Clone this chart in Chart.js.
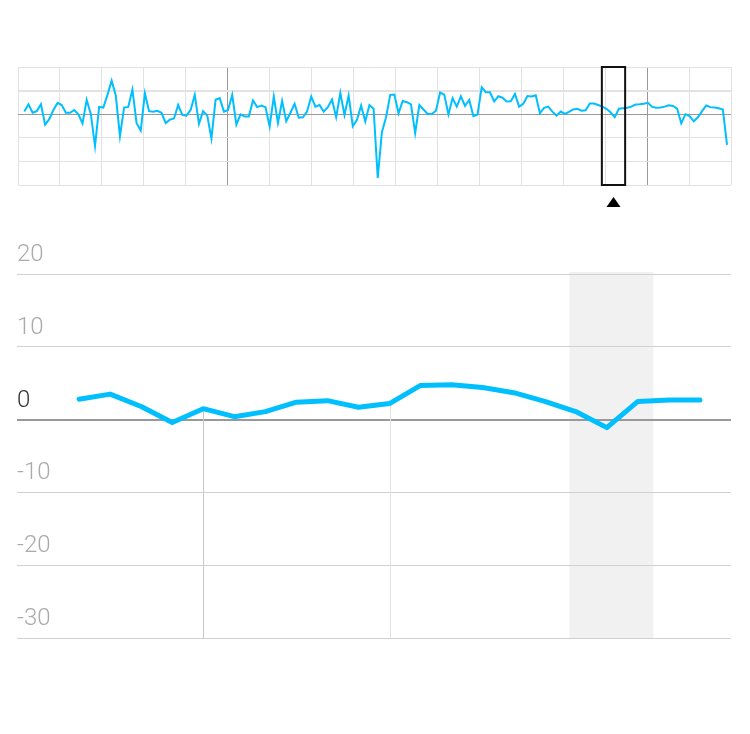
<!DOCTYPE html>
<html>
<head>
<meta charset="utf-8">
<script src="https://cdn.jsdelivr.net/npm/chart.js@4"></script>
<style>
  body { margin: 0; background: #fff; }
  #wrap { position: relative; width: 750px; height: 734px; }
  canvas { position: absolute; left: 0; }
  #overview { top: 0; }
  #detail { top: 230px; }
</style>
</head>
<body>
<div id="wrap">
  <canvas id="overview" width="750" height="230"></canvas>
  <canvas id="detail" width="750" height="504"></canvas>
</div>
<script>
// overview series (170 points)
var overviewValues = [
  1.1, 4.2, 0.6, 1.3, 4.2, -4.4, -2.1, 1.8, 4.8, 3.9, 0.6, 0.6, 1.8, -0.1, -3.9, 6.1, 0, -13.5, 3.1, 2.8, 8.2, 14.2, 7.9, -9.3, 2.8, 3.1, 10.4, -3.8,
  -6.9, 8.9, 1.3, 1.0, 1.4, 0.6, -3.8, -2.3, -1.8, 3.9, -0.3, -0.6, 1.8, 8.2, -4.1, 1.3, -0.6, -10.3, 6.1, 6.8, 1.1, 1.8, 8.2, -4.4, -0.1, -1.0, -1.0, 5.8,
  3.0, 3.7, 3.0, -5.2, 7.5, -3.7, 5.6, -3.0, 0.6, 4.4, -1.5, -1.3, 1.1, 7.5, 3.2, 3.9, 1.1, 3.0, 6.2, -1.3, 9.0, -0.3, 7.9, -5.1, -2.4, 3.7, -3.1, 3.9, 2.3,
  -27.0, -7.6, -1.3, 8.2, 8.3, 0.4, 5.6, 5.1, 4.2, -8.0, 3.9, 2.0, 0.1, 0.1, 1.5, 9.2, 8.3, -0.1, 6.8, 3.2, 7.6, 3.5, 6.1, -0.8, -0.1, 11.4, 9.3, 9.3, 5.4,
  7.6, 7.0, 5.4, 5.5, 8.6, 3.2, 4.4, 7.7, 7.5, 8.0, 0.4, 2.7, 3.2, 1.1, -0.6, 1.1, 0.1, 1.0, 2.0, 2.3, 1.5, 1.7, 4.5, 4.5, 3.9, 3.2, 2.3, 0.8, -1.3,
  2.3, 2.5, 2.7, 3.2, 4.1, 4.2, 4.4, 4.8, 3.1, 2.7, 2.8, 3.2, 3.8, 3.5, 2.4, -3.9, 0, -0.8, -3.0, -1.3, 1.3, 3.7, 3.0, 2.8, 2.5, 2.0, -13.0
];
// detail series (21 points)
var detailValues = [2.8, 3.5, 1.8, -0.4, 1.5, 0.4, 1.1, 2.4, 2.6, 1.7, 2.2, 4.7, 4.8, 4.4, 3.7, 2.5, 1.1, -1.1, 2.5, 2.7, 2.7];
var yTicks = [20, 10, 0, -10, -20, -30];
var dropLineIndexes = [4, 10];
var dropLineColors = ["#c8c8c8", "#e2e2e2"];
var bandRange = [15.8, 18.5];
var windowRange = [138.9, 144.5];
var darkOverviewLines = [5, 15];

var blue = "#00bfff";

function toPoints(values) {
  var pts = [];
  for (var i = 0; i < values.length; i++) pts.push({x: i, y: values[i]});
  return pts;
}

// ---- overview ----
var ovMin = -1.52, ovMax = 169.96;
var windowPlugin = {
  id: "windowBox",
  afterDraw: function(chart) {
    var ctx = chart.ctx, xs = chart.scales.x, a = chart.chartArea;
    var x0 = xs.getPixelForValue(windowRange[0]);
    var x1 = xs.getPixelForValue(windowRange[1]);
    ctx.save();
    ctx.strokeStyle = "#111";
    ctx.lineWidth = 2;
    ctx.strokeRect(x0, a.top, x1 - x0, a.bottom - a.top);
    var cx = (x0 + x1) / 2;
    ctx.fillStyle = "#000";
    ctx.beginPath();
    ctx.moveTo(cx, a.bottom + 12);
    ctx.lineTo(cx + 7, a.bottom + 22);
    ctx.lineTo(cx - 7, a.bottom + 22);
    ctx.closePath();
    ctx.fill();
    ctx.restore();
  }
};

new Chart(document.getElementById("overview"), {
  type: "line",
  data: {
    datasets: [{
      data: toPoints(overviewValues),
      borderColor: blue,
      borderWidth: 2,
      pointRadius: 0,
      tension: 0
    }]
  },
  options: {
    responsive: false,
    animation: false,
    events: [],
    layout: { padding: { left: 18, right: 19, top: 67, bottom: 45 } },
    plugins: { legend: { display: false }, tooltip: { enabled: false } },
    scales: {
      x: {
        type: "linear",
        min: ovMin,
        max: ovMax,
        afterBuildTicks: function(scale) {
          var t = [];
          for (var k = 0; k <= 17; k++) t.push({value: ovMin + k * (ovMax - ovMin) / 17});
          scale.ticks = t;
        },
        ticks: { display: false },
        border: { display: false },
        grid: {
          drawTicks: false,
          color: function(c) { return darkOverviewLines.indexOf(c.index) >= 0 ? "#999" : "#e2e2e2"; }
        }
      },
      y: {
        min: -30,
        max: 20,
        afterBuildTicks: function(scale) {
          scale.ticks = yTicks.map(function(v) { return {value: v}; });
        },
        ticks: { display: false },
        border: { display: false },
        grid: {
          drawTicks: false,
          color: function(c) { return c.tick.value === 0 ? "#999" : "#e2e2e2"; },
          lineWidth: function(c) { return c.tick.value === 10 ? 2 : 1; }
        }
      }
    }
  },
  plugins: [windowPlugin]
});

// ---- detail ----
var detailPlugin = {
  id: "detailExtras",
  beforeDraw: function(chart) {
    var ctx = chart.ctx, xs = chart.scales.x, ys = chart.scales.y, a = chart.chartArea;
    var x0 = xs.getPixelForValue(bandRange[0]);
    var x1 = xs.getPixelForValue(bandRange[1]);
    ctx.save();
    ctx.fillStyle = "#f1f1f1";
    ctx.fillRect(x0, a.top - 2, x1 - x0, a.bottom - a.top + 2);
    ctx.restore();
  },
  beforeDatasetsDraw: function(chart) {
    var ctx = chart.ctx, xs = chart.scales.x, ys = chart.scales.y, a = chart.chartArea;
    ctx.save();
    ctx.lineWidth = 1;
    dropLineIndexes.forEach(function(i, n) {
      var x = Math.round(xs.getPixelForValue(i)) + 0.5;
      ctx.strokeStyle = dropLineColors[n];
      ctx.beginPath();
      ctx.moveTo(x, ys.getPixelForValue(detailValues[i]));
      ctx.lineTo(x, a.bottom);
      ctx.stroke();
    });
    ctx.restore();
  }
};

new Chart(document.getElementById("detail"), {
  type: "line",
  data: {
    datasets: [{
      data: toPoints(detailValues),
      borderColor: blue,
      borderWidth: 5,
      borderCapStyle: "round",
      borderJoinStyle: "round",
      pointRadius: 0,
      tension: 0
    }]
  },
  options: {
    responsive: false,
    animation: false,
    events: [],
    layout: { padding: { left: 17, right: 19, top: 44, bottom: 96 } },
    plugins: { legend: { display: false }, tooltip: { enabled: false } },
    scales: {
      x: {
        type: "linear",
        min: -2,
        max: 21,
        display: false
      },
      y: {
        min: -30,
        max: 20,
        afterBuildTicks: function(scale) {
          scale.ticks = yTicks.map(function(v) { return {value: v}; });
        },
        border: { display: false },
        grid: {
          drawTicks: false,
          color: function(c) { return c.tick.value === 0 ? "#999" : "#d0d0d0"; },
          lineWidth: function(c) { return c.tick.value === 0 ? 2 : 1; }
        },
        ticks: {
          mirror: true,
          padding: 0,
          labelOffset: -19,
          color: function(c) { return c.tick.value === 0 ? "#333" : "#aaa"; },
          font: { family: "Roboto", size: 24, weight: "300" },
          callback: function(v) { return String(v); }
        }
      }
    }
  },
  plugins: [detailPlugin]
});
</script>
</body>
</html>
